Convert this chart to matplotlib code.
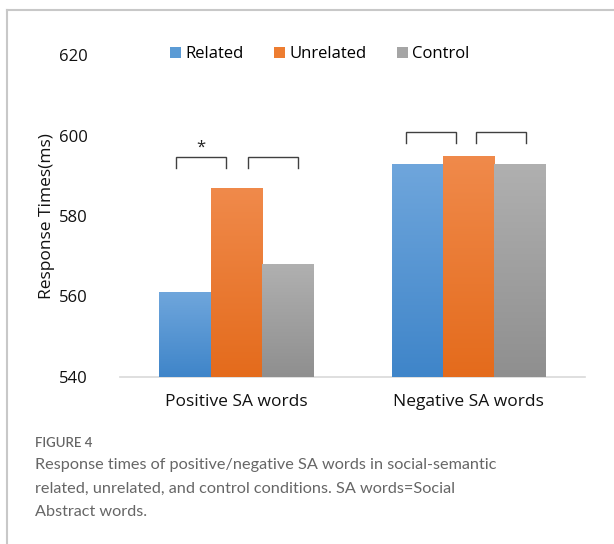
import matplotlib
matplotlib.use("Agg")
import matplotlib.pyplot as plt
import numpy as np
from matplotlib.lines import Line2D
from matplotlib.patches import Patch

categories = ["Positive SA words", "Negative SA words"]
series_names = ["Related", "Unrelated", "Control"]
related = [561, 593]
unrelated = [587, 595]
control = [568, 593]
y_ticks = [540, 560, 580, 600, 620]
# significance brackets: (group, left offset, right offset, top value, label)
brackets = [(0, -0.26, -0.045, 594.6, "*"), (0, 0.05, 0.265, 594.6, ""),
            (1, -0.27, -0.055, 600.8, ""), (1, 0.03, 0.245, 600.8, "")]

colors_top = ["#6fa6dc", "#f08a4b", "#b0b0b0"]
colors_bot = ["#3f85c9", "#e46b1c", "#8f8f8f"]
colors_legend = ["#5b9bd5", "#ed7d31", "#a5a5a5"]

plt.rcParams['font.family'] = ['Open Sans', 'DejaVu Sans']

fig = plt.figure(figsize=(6.14, 5.44), dpi=100)
ax = fig.add_axes([120/614, 1-377/544, 465/614, (377-55)/544])

x = np.arange(len(categories))
w = 0.221
data = [related, unrelated, control]
for i, vals in enumerate(data):
    bars = ax.bar(x + (i-1)*w, np.array(vals) - 540, bottom=540, width=w,
                  color=colors_legend[i], linewidth=0, zorder=2)
    for b in bars:
        x0, y0 = b.get_x(), b.get_y()
        x1, y1 = x0 + b.get_width(), y0 + b.get_height()
        grad = np.linspace(0, 1, 100).reshape(-1, 1)
        c0 = np.array(matplotlib.colors.to_rgb(colors_top[i]))
        c1 = np.array(matplotlib.colors.to_rgb(colors_bot[i]))
        img = c1[None, None, :] * grad[:, :, None] + c0[None, None, :] * (1 - grad[:, :, None])
        im = ax.imshow(img, extent=[x0, x1, y0, y1], aspect='auto', zorder=3,
                       interpolation='bilinear')
        im.set_clip_path(b)

for g, l, r, top, lab in brackets:
    xs = [g + l, g + l, g + r, g + r]
    ys = [top - 2.6, top, top, top - 2.6]
    ax.plot(xs, ys, color="#404040", lw=1.0, zorder=4, solid_joinstyle='miter')
    if lab:
        ax.text(g + (l + r) / 2, top + 0.3, lab, ha='center', va='bottom',
                fontsize=12, color="#222222")

ax.set_xlim(-0.5, 1.5)
ax.set_ylim(540, 620)
ax.set_yticks(y_ticks)
ax.set_xticks(x)
ax.set_xticklabels(categories)
for s in ["top", "right", "left"]:
    ax.spines[s].set_visible(False)
ax.spines["bottom"].set_color("#d9d9d9")
ax.spines["bottom"].set_linewidth(1.2)
ax.tick_params(axis='y', length=0, labelsize=12, colors="#111111", pad=23)
ax.tick_params(axis='x', length=0, labelsize=12.5, colors="#111111", pad=12)
ax.set_ylabel("Response Times(ms)", fontsize=12.5, color="#111111")
ax.yaxis.set_label_coords(-(120-55)/465, 0.5)

handles = [Patch(facecolor=c, edgecolor='none') for c in colors_legend]
fig.legend(handles, series_names, loc='center', bbox_to_anchor=(320/614, 1-54/544),
           ncol=3, frameon=False, fontsize=12, handlelength=0.65, handleheight=0.65,
           handletextpad=0.25, columnspacing=1.85)

# figure border
fig.add_artist(Line2D([7/614, 1], [1-10/544, 1-10/544], color="#c8c8c8", lw=1.5))
fig.add_artist(Line2D([7/614, 7/614], [0, 1-10/544], color="#c8c8c8", lw=1.5))

fig.text(35/614, 1-443/544, "FIGURE 4", fontsize=9.5, color="#666666",
         fontweight='semibold', va='center', family=['Lato', 'DejaVu Sans'])
caption = ("Response times of positive/negative SA words in social-semantic\n"
           "related, unrelated, and control conditions. SA words=Social\n"
           "Abstract words.")
fig.text(35/614, 1-458/544, caption, fontsize=11.7, color="#666666", va='top',
         linespacing=1.88, family=['Lato', 'DejaVu Sans'])

fig.savefig("out.png", dpi=100)
